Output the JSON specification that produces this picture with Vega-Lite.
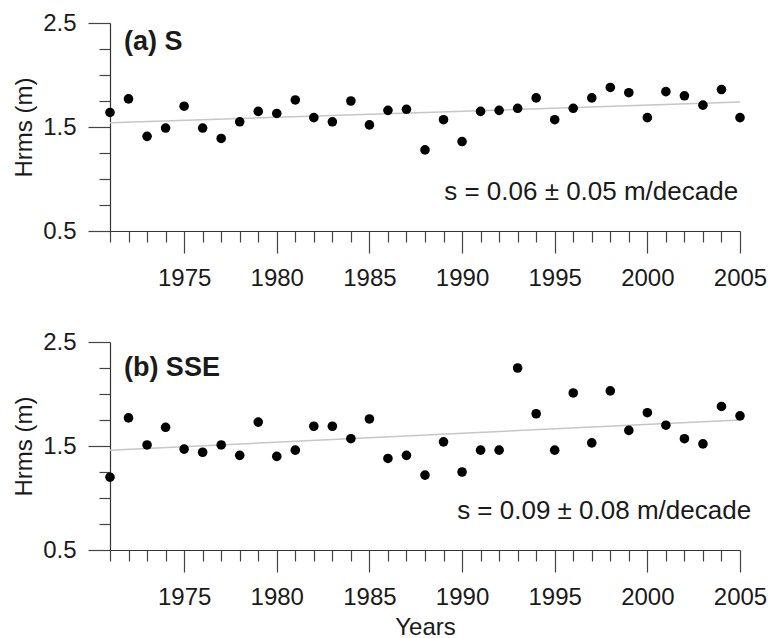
{
  "$schema": "https://vega.github.io/schema/vega-lite/v6.json",
  "padding": {"left": 12, "top": 11, "right": 0, "bottom": 0},
  "background": "white",
  "bounds": "flush",
  "spacing": 111,
  "config": {
    "view": {"stroke": null},
    "font": "Liberation Sans",
    "axis": {
      "grid": false,
      "domainColor": "#333333",
      "domainWidth": 1.2,
      "tickColor": "#444444",
      "tickWidth": 1.2,
      "tickCount": 100,
      "labelFontSize": 24,
      "labelColor": "#1a1a1a",
      "labelFont": "Liberation Sans",
      "labelOverlap": false,
      "labelFlush": false,
      "labelBound": false,
      "titleFont": "Liberation Sans",
      "titleFontSize": 24,
      "titleFontWeight": "normal",
      "titleColor": "#1a1a1a"
    }
  },
  "datasets": {
    "s": [
      {"year": 1971, "hrms": 1.64}, {"year": 1972, "hrms": 1.77}, {"year": 1973, "hrms": 1.41},
      {"year": 1974, "hrms": 1.49}, {"year": 1975, "hrms": 1.70}, {"year": 1976, "hrms": 1.49},
      {"year": 1977, "hrms": 1.39}, {"year": 1978, "hrms": 1.55}, {"year": 1979, "hrms": 1.65},
      {"year": 1980, "hrms": 1.63}, {"year": 1981, "hrms": 1.76}, {"year": 1982, "hrms": 1.59},
      {"year": 1983, "hrms": 1.55}, {"year": 1984, "hrms": 1.75}, {"year": 1985, "hrms": 1.52},
      {"year": 1986, "hrms": 1.66}, {"year": 1987, "hrms": 1.67}, {"year": 1988, "hrms": 1.28},
      {"year": 1989, "hrms": 1.57}, {"year": 1990, "hrms": 1.36}, {"year": 1991, "hrms": 1.65},
      {"year": 1992, "hrms": 1.66}, {"year": 1993, "hrms": 1.68}, {"year": 1994, "hrms": 1.78},
      {"year": 1995, "hrms": 1.57}, {"year": 1996, "hrms": 1.68}, {"year": 1997, "hrms": 1.78},
      {"year": 1998, "hrms": 1.88}, {"year": 1999, "hrms": 1.83}, {"year": 2000, "hrms": 1.59},
      {"year": 2001, "hrms": 1.84}, {"year": 2002, "hrms": 1.80}, {"year": 2003, "hrms": 1.71},
      {"year": 2004, "hrms": 1.86}, {"year": 2005, "hrms": 1.59}
    ],
    "sse": [
      {"year": 1971, "hrms": 1.20}, {"year": 1972, "hrms": 1.77}, {"year": 1973, "hrms": 1.51},
      {"year": 1974, "hrms": 1.68}, {"year": 1975, "hrms": 1.47}, {"year": 1976, "hrms": 1.44},
      {"year": 1977, "hrms": 1.51}, {"year": 1978, "hrms": 1.41}, {"year": 1979, "hrms": 1.73},
      {"year": 1980, "hrms": 1.40}, {"year": 1981, "hrms": 1.46}, {"year": 1982, "hrms": 1.69},
      {"year": 1983, "hrms": 1.69}, {"year": 1984, "hrms": 1.57}, {"year": 1985, "hrms": 1.76},
      {"year": 1986, "hrms": 1.38}, {"year": 1987, "hrms": 1.41}, {"year": 1988, "hrms": 1.22},
      {"year": 1989, "hrms": 1.54}, {"year": 1990, "hrms": 1.25}, {"year": 1991, "hrms": 1.46},
      {"year": 1992, "hrms": 1.46}, {"year": 1993, "hrms": 2.25}, {"year": 1994, "hrms": 1.81},
      {"year": 1995, "hrms": 1.46}, {"year": 1996, "hrms": 2.01}, {"year": 1997, "hrms": 1.53},
      {"year": 1998, "hrms": 2.03}, {"year": 1999, "hrms": 1.65}, {"year": 2000, "hrms": 1.82},
      {"year": 2001, "hrms": 1.70}, {"year": 2002, "hrms": 1.57}, {"year": 2003, "hrms": 1.52},
      {"year": 2004, "hrms": 1.88}, {"year": 2005, "hrms": 1.79}
    ],
    "trend_s": [{"year": 1971, "hrms": 1.54}, {"year": 2005, "hrms": 1.74}],
    "trend_sse": [{"year": 1971, "hrms": 1.46}, {"year": 2005, "hrms": 1.75}],
    "label_s": [{"label": "(a) S"}],
    "label_sse": [{"label": "(b) SSE"}],
    "note_s": [{"note": "s = 0.06 ± 0.05 m/decade"}],
    "note_sse": [{"note": "s = 0.09 ± 0.08 m/decade"}]
  },
  "vconcat": [
    {
      "width": 630,
      "height": 208,
      "layer": [
        {
          "data": {"name": "trend_s"},
          "mark": {"type": "line", "color": "#c6c6c6", "strokeWidth": 1.5},
          "encoding": {
            "x": {"field": "year", "type": "quantitative", "scale": {"domain": [1971, 2005], "nice": false, "zero": false},
              "axis": {"title": null, "values": [1971,1972,1973,1974,1975,1976,1977,1978,1979,1980,1981,1982,1983,1984,1985,1986,1987,1988,1989,1990,1991,1992,1993,1994,1995,1996,1997,1998,1999,2000,2001,2002,2003,2004,2005],
                "tickCount": 100,
                "format": "d", "labelExpr": "datum.value % 5 === 0 ? datum.label : ''",
                "labelOverlap": false,
                "tickSize": {"condition": {"test": "datum.value % 5 === 0", "value": 22}, "value": 11},
                "labelPadding": 13}},
            "y": {"field": "hrms", "type": "quantitative", "scale": {"domain": [0.5, 2.5], "nice": false, "zero": false},
              "axis": {"title": "Hrms (m)", "values": [0.5,0.75,1,1.25,1.5,1.75,2,2.25,2.5],
                "tickCount": 100,
                "labelExpr": "(datum.value === 0.5 || datum.value === 1.5 || datum.value === 2.5) ? format(datum.value, '.1f') : ''",
                "labelOverlap": false,
                "tickSize": {"condition": {"test": "datum.value === 0.5 || datum.value === 1.5 || datum.value === 2.5", "value": 22}, "value": 11},
                "labelPadding": 12, "titlePadding": 6}}
          }
        },
        {
          "data": {"name": "s"},
          "mark": {"type": "circle", "color": "#000000", "opacity": 1, "size": 92, "clip": false},
          "encoding": {
            "x": {"field": "year", "type": "quantitative"},
            "y": {"field": "hrms", "type": "quantitative"}
          }
        },
        {
          "data": {"name": "label_s"},
          "mark": {"type": "text", "fontSize": 27, "fontWeight": "bold", "align": "left", "baseline": "middle", "color": "#1a1a1a"},
          "encoding": {
            "text": {"field": "label"},
            "x": {"datum": 1971.75},
            "y": {"datum": 2.32}
          }
        },
        {
          "data": {"name": "note_s"},
          "mark": {"type": "text", "fontSize": 26, "align": "right", "baseline": "middle", "color": "#1a1a1a"},
          "encoding": {
            "text": {"field": "note"},
            "x": {"datum": 2004.9},
            "y": {"datum": 0.875}
          }
        }
      ]
    },
    {
      "width": 630,
      "height": 208,
      "layer": [
        {
          "data": {"name": "trend_sse"},
          "mark": {"type": "line", "color": "#c6c6c6", "strokeWidth": 1.5},
          "encoding": {
            "x": {"field": "year", "type": "quantitative", "scale": {"domain": [1971, 2005], "nice": false, "zero": false},
              "axis": {"title": "Years", "values": [1971,1972,1973,1974,1975,1976,1977,1978,1979,1980,1981,1982,1983,1984,1985,1986,1987,1988,1989,1990,1991,1992,1993,1994,1995,1996,1997,1998,1999,2000,2001,2002,2003,2004,2005],
                "tickCount": 100,
                "format": "d", "labelExpr": "datum.value % 5 === 0 ? datum.label : ''",
                "labelOverlap": false,
                "tickSize": {"condition": {"test": "datum.value % 5 === 0", "value": 22}, "value": 11},
                "labelPadding": 13, "titlePadding": 6}},
            "y": {"field": "hrms", "type": "quantitative", "scale": {"domain": [0.5, 2.5], "nice": false, "zero": false},
              "axis": {"title": "Hrms (m)", "values": [0.5,0.75,1,1.25,1.5,1.75,2,2.25,2.5],
                "tickCount": 100,
                "labelExpr": "(datum.value === 0.5 || datum.value === 1.5 || datum.value === 2.5) ? format(datum.value, '.1f') : ''",
                "labelOverlap": false,
                "tickSize": {"condition": {"test": "datum.value === 0.5 || datum.value === 1.5 || datum.value === 2.5", "value": 22}, "value": 11},
                "labelPadding": 12, "titlePadding": 6}}
          }
        },
        {
          "data": {"name": "sse"},
          "mark": {"type": "circle", "color": "#000000", "opacity": 1, "size": 92, "clip": false},
          "encoding": {
            "x": {"field": "year", "type": "quantitative"},
            "y": {"field": "hrms", "type": "quantitative"}
          }
        },
        {
          "data": {"name": "label_sse"},
          "mark": {"type": "text", "fontSize": 27, "fontWeight": "bold", "align": "left", "baseline": "middle", "color": "#1a1a1a"},
          "encoding": {
            "text": {"field": "label"},
            "x": {"datum": 1971.75},
            "y": {"datum": 2.25}
          }
        },
        {
          "data": {"name": "note_sse"},
          "mark": {"type": "text", "fontSize": 26, "align": "right", "baseline": "middle", "color": "#1a1a1a"},
          "encoding": {
            "text": {"field": "note"},
            "x": {"datum": 2005.6},
            "y": {"datum": 0.873}
          }
        }
      ]
    }
  ]
}
